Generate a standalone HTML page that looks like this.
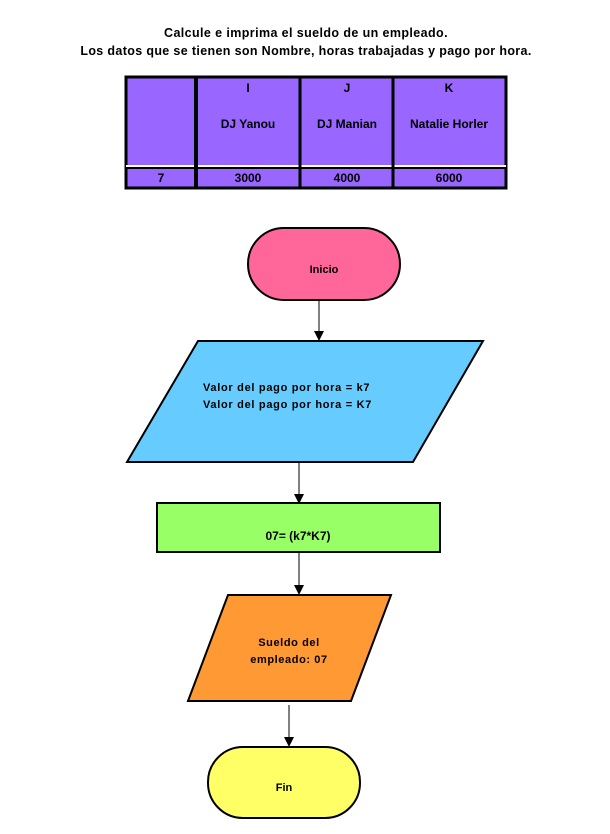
<!DOCTYPE html>
<html><head><meta charset="utf-8"><style>
html,body{margin:0;padding:0;background:#fff;}
svg{display:block;}
text{font-family:"Liberation Sans",sans-serif;font-weight:bold;fill:#000;}
</style></head><body>
<svg width="610" height="834" viewBox="0 0 610 834" xmlns="http://www.w3.org/2000/svg">
<defs><marker id="a" markerWidth="10" markerHeight="10" refX="9" refY="5" orient="auto" markerUnits="userSpaceOnUse"><path d="M0,0 L10,5 L0,10 z" fill="#000"/></marker></defs>
<text x="306" y="37" font-size="12.5" text-anchor="middle" letter-spacing="0.4">Calcule e imprima el sueldo de un empleado.</text>
<text x="306" y="55" font-size="12.5" text-anchor="middle" letter-spacing="0.35">Los datos que se tienen son Nombre, horas trabajadas y pago por hora.</text>
<!-- table -->
<rect x="126" y="77" width="380" height="111" fill="#9966ff" stroke="#000" stroke-width="3"/>
<line x1="126" y1="166" x2="506" y2="166" stroke="#fff" stroke-width="2"/>
<line x1="126" y1="168" x2="506" y2="168" stroke="#000" stroke-width="2"/>
<line x1="196" y1="77" x2="196" y2="188" stroke="#000" stroke-width="4"/>
<line x1="300" y1="77" x2="300" y2="188" stroke="#000" stroke-width="3"/>
<line x1="393" y1="77" x2="393" y2="188" stroke="#000" stroke-width="3"/>
<g font-size="12" text-anchor="middle">
<text x="248" y="92">I</text><text x="347" y="92">J</text><text x="449" y="92">K</text>
<text x="248" y="128">DJ Yanou</text><text x="347" y="128">DJ Manian</text><text x="449" y="128">Natalie Horler</text>
<text x="161" y="182">7</text><text x="248" y="182">3000</text><text x="347" y="182">4000</text><text x="449" y="182">6000</text>
</g>
<!-- Inicio -->
<rect x="248" y="228" width="152" height="72" rx="36" fill="#ff6699" stroke="#000" stroke-width="2"/>
<text x="324" y="273" font-size="11" text-anchor="middle">Inicio</text>
<line x1="319" y1="300" x2="319" y2="340" stroke="#000" marker-end="url(#a)"/>
<!-- blue -->
<polygon points="198,341 483,341 413,462 127,462" fill="#66ccff" stroke="#000" stroke-width="2"/>
<text x="203" y="391" font-size="11" letter-spacing="0.7">Valor del pago por hora = k7</text>
<text x="203" y="408" font-size="11" letter-spacing="0.7">Valor del pago por hora  = K7</text>
<line x1="299" y1="462" x2="299" y2="503" stroke="#000" marker-end="url(#a)"/>
<!-- green -->
<rect x="157" y="503" width="283" height="49" fill="#99ff66" stroke="#000" stroke-width="2"/>
<text x="298" y="540" font-size="12" text-anchor="middle">07= (k7*K7)</text>
<line x1="299" y1="553" x2="299" y2="594" stroke="#000" marker-end="url(#a)"/>
<!-- orange -->
<polygon points="228,595 391,595 351,701 188,701" fill="#ff9933" stroke="#000" stroke-width="2"/>
<text x="289" y="646" font-size="11" text-anchor="middle" letter-spacing="0.6">Sueldo del</text>
<text x="289" y="663" font-size="11" text-anchor="middle" letter-spacing="0.6">empleado: 07</text>
<line x1="289" y1="705" x2="289" y2="746" stroke="#000" marker-end="url(#a)"/>
<!-- Fin -->
<rect x="208" y="747" width="152" height="71" rx="35" fill="#ffff66" stroke="#000" stroke-width="2"/>
<text x="284" y="791" font-size="11" text-anchor="middle">Fin</text>
</svg>
</body></html>
